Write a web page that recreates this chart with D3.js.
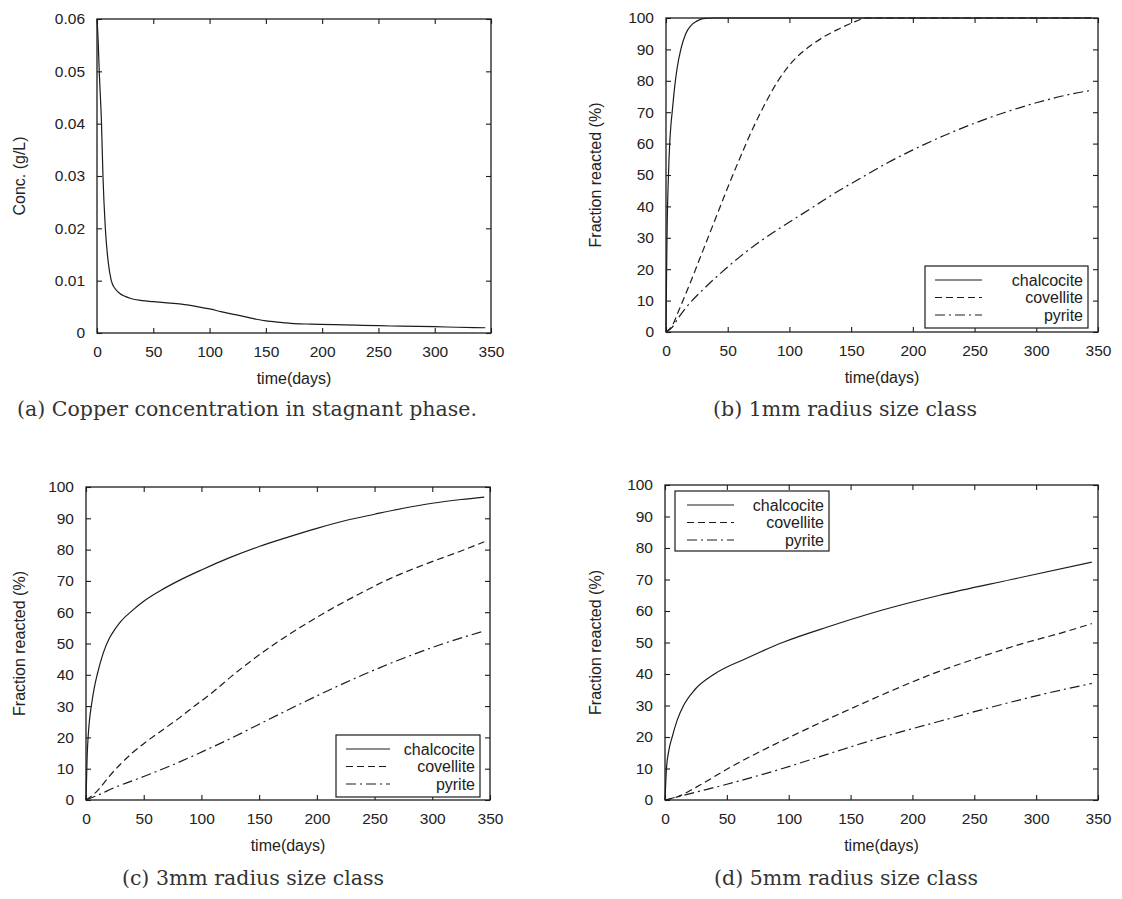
<!DOCTYPE html>
<html>
<head>
<meta charset="utf-8">
<script src="https://cdnjs.cloudflare.com/ajax/libs/d3/7.8.5/d3.min.js"></script>
<style>
  body { margin: 0; background: #fff; }
  svg text { font-family: "Liberation Sans", Arial, sans-serif; fill: #222; }
  svg text.caption { font-family: "DejaVu Serif", serif; fill: #333; }
</style>
</head>
<body>
<svg id="chart" width="1122" height="899"></svg>
<script>
// tick labels
const xTicks = [0, 50, 100, 150, 200, 250, 300, 350];
const concTicks = [0, 0.01, 0.02, 0.03, 0.04, 0.05, 0.06];
const pctTicks = [0, 10, 20, 30, 40, 50, 60, 70, 80, 90, 100];
const minerals = ['chalcocite', 'covellite', 'pyrite'];

// (a) copper concentration, g/L
const aTime = [0, 1, 2, 4, 5.3, 7.4, 10, 12.7, 16, 20, 25, 30, 40, 50, 60, 75, 90, 100, 110, 125, 140, 150, 165, 175, 190, 210, 230, 250, 270, 300, 320, 345];
const aConc = [0.06, 0.056, 0.05, 0.04, 0.03, 0.02, 0.0135, 0.01, 0.0085, 0.0076, 0.007, 0.0066, 0.0062, 0.006, 0.0058, 0.0055, 0.005, 0.0046, 0.0041, 0.0034, 0.0027, 0.0023, 0.002, 0.0018, 0.0017, 0.0016, 0.0015, 0.0014, 0.0013, 0.0012, 0.0011, 0.001];

// (b) 1mm
const bChalT = [0, 0.5, 1, 2, 3, 4, 5, 7, 9, 12, 16, 20, 25, 30, 40, 345];
const bChalV = [0, 20, 35, 50, 60, 66, 70, 78, 84, 90, 95, 97.5, 99, 99.8, 100, 100];
const bCovT = [0, 5, 10, 20, 30, 40, 50, 60, 70, 80, 90, 100, 110, 120, 130, 140, 150, 163, 345];
const bCovV = [0, 2, 6.5, 16, 26, 36, 46, 55.5, 64.5, 72.5, 79.5, 85, 89, 92, 94.5, 96.5, 98.3, 100, 100];
const bPyrT = [0, 5, 10, 20, 30, 45, 60, 75, 90, 100, 120, 140, 160, 180, 200, 225, 250, 275, 300, 325, 345];
const bPyrV = [0, 1.5, 4.5, 9.5, 13.5, 19, 24, 28.5, 32.5, 35, 40, 45, 49.5, 54, 58, 62.5, 66.5, 70, 73, 75.5, 77];

// (c) 3mm
const cChalT = [0, 1, 2, 3, 5, 7, 10, 15, 20, 25, 30, 40, 50, 65, 80, 100, 125, 150, 175, 200, 225, 250, 275, 300, 325, 345];
const cChalV = [0, 14, 21, 25.5, 31, 35.5, 40.5, 47, 51.5, 54.5, 57, 60.5, 63.5, 67, 70, 73.5, 77.5, 81, 84, 86.8, 89.3, 91.3, 93.2, 94.8, 96, 96.8];
const cCovT = [0, 10, 20, 30, 40, 50, 63, 80, 94, 110, 126, 145, 164, 185, 210, 235, 262, 295, 328, 345];
const cCovV = [0, 3, 7.5, 11.5, 15, 18, 21.5, 26, 30, 34.5, 39.5, 45, 50, 55, 60.5, 65.5, 70.5, 75.5, 80, 82.5];
const cPyrT = [0, 10, 25, 50, 75, 100, 125, 150, 180, 210, 240, 275, 310, 345];
const cPyrV = [0, 1.5, 4, 7.5, 11.2, 15.3, 19.6, 24.2, 29.7, 35, 40, 45.3, 50, 54];

// (d) 5mm
const dChalT = [0, 1.2, 3, 5.8, 10, 15, 24, 40, 66, 95, 132, 173, 222, 280, 345];
const dChalV = [0, 10, 15.5, 20, 25.5, 30, 35, 40, 45, 50, 55, 60, 65, 70, 75.5];
const dCovT = [0, 10, 25, 51, 75, 101, 128, 156, 185, 216, 252, 292, 320, 345];
const dCovV = [0, 1, 4, 10, 15, 20, 25, 30, 35, 40, 45, 50, 53, 56];
const dPyrT = [0, 25, 50, 95, 135, 176, 222, 269, 310, 345];
const dPyrV = [0, 2.5, 5, 10, 15, 20, 25, 30, 34, 37];

const dashes = ['none', '7,4', '10,4,2,4'];
const ink = '#1c1c1c';

const svg = d3.select('#chart');

function drawPanel(p) {
    const x = d3.scaleLinear().domain([0, 350]).range([p.left, p.right]);
    const y = d3.scaleLinear().domain(p.yDomain).range([p.bottom, p.top]);
    const g = svg.append('g');

    // ticks on all four sides, pointing inward
    const axes = [
        [d3.axisBottom(x).tickValues(xTicks).tickFormat(d3.format('d')), p.bottom, 'x'],
        [d3.axisTop(x).tickValues(xTicks).tickFormat(''), p.top, 'x'],
        [d3.axisLeft(y).tickValues(p.yTicks).tickFormat(p.yFormat), p.left, 'y'],
        [d3.axisRight(y).tickValues(p.yTicks).tickFormat(''), p.right, 'y']
    ];
    axes.forEach(([ax, pos, dir]) => {
        const a = g.append('g')
            .attr('transform', dir === 'x' ? `translate(0,${pos})` : `translate(${pos},0)`)
            .call(ax.tickSizeInner(-5).tickSizeOuter(0).tickPadding(dir === 'x' ? 13 : 12));
        a.select('.domain').remove();
        a.selectAll('line').attr('stroke', ink).attr('stroke-width', 1.1);
        a.selectAll('text').attr('fill', '#222').style('font-size', '15.5px');
    });

    g.append('rect')
        .attr('x', p.left).attr('y', p.top)
        .attr('width', p.right - p.left).attr('height', p.bottom - p.top)
        .attr('fill', 'none').attr('stroke', ink).attr('stroke-width', 1.3);

    const line = d3.line()
        .x(d => x(d[0]))
        .y(d => y(d[1]))
        .curve(d3.curveMonotoneX);

    p.series.forEach((s, i) => {
        g.append('path')
            .datum(d3.zip(s.t, s.v))
            .attr('d', line)
            .attr('fill', 'none')
            .attr('stroke', ink)
            .attr('stroke-width', 1.2)
            .attr('stroke-dasharray', s.dash);
    });

    // axis titles
    g.append('text')
        .attr('x', (p.left + p.right) / 2).attr('y', p.bottom + 51)
        .attr('text-anchor', 'middle').style('font-size', '16px')
        .text('time(days)');
    g.append('text')
        .attr('transform', `translate(${p.titleX},${(p.top + p.bottom) / 2}) rotate(-90)`)
        .attr('text-anchor', 'middle').attr('dy', '0.35em').style('font-size', '16px')
        .text(p.yTitle);

    // legend
    if (p.legend) {
        const L = p.legend;
        g.append('rect')
            .attr('x', L.x0).attr('y', L.y0)
            .attr('width', L.x1 - L.x0).attr('height', L.y1 - L.y0)
            .attr('fill', '#fff').attr('stroke', ink).attr('stroke-width', 1.2);
        p.series.forEach((s, i) => {
            const yy = L.y0 + 14 + i * 17.5;
            g.append('line')
                .attr('x1', L.lx0).attr('x2', L.lx1).attr('y1', yy).attr('y2', yy)
                .attr('stroke', ink).attr('stroke-width', 1.2)
                .attr('stroke-dasharray', s.dash);
            g.append('text')
                .attr('x', L.x1 - 5).attr('y', yy).attr('dy', '0.35em')
                .attr('text-anchor', 'end').style('font-size', '16px')
                .text(s.name);
        });
    }

    g.append('text')
        .attr('class', 'caption')
        .attr('x', p.capX).attr('y', p.capY)
        .attr('text-anchor', 'middle').style('font-size', '20.5px')
        .text(p.caption);
}

const pctFmt = d3.format('d');
const concFmt = d => d === 0 ? '0' : d.toFixed(2);

function mk(ts, vs) {
    return minerals.map((m, i) => ({ name: m, t: ts[i], v: vs[i], dash: dashes[i] }));
}

drawPanel({
    left: 97, right: 491, top: 19, bottom: 333,
    yDomain: [0, 0.06], yTicks: concTicks, yFormat: concFmt,
    yTitle: 'Conc. (g/L)', titleX: 19,
    series: [{ name: 'conc', t: aTime, v: aConc, dash: 'none' }],
    caption: '(a) Copper concentration in stagnant phase.', capX: 247, capY: 416
});

drawPanel({
    left: 666, right: 1098, top: 18, bottom: 332,
    yDomain: [0, 100], yTicks: pctTicks, yFormat: pctFmt,
    yTitle: 'Fraction reacted (%)', titleX: 595,
    series: mk([bChalT, bCovT, bPyrT], [bChalV, bCovV, bPyrV]),
    legend: { x0: 925, x1: 1088, y0: 266, y1: 328, lx0: 935, lx1: 982 },
    caption: '(b) 1mm radius size class', capX: 845, capY: 416
});

drawPanel({
    left: 86, right: 490, top: 487, bottom: 800,
    yDomain: [0, 100], yTicks: pctTicks, yFormat: pctFmt,
    yTitle: 'Fraction reacted (%)', titleX: 19,
    series: mk([cChalT, cCovT, cPyrT], [cChalV, cCovV, cPyrV]),
    legend: { x0: 336, x1: 480, y0: 735, y1: 797, lx0: 346, lx1: 390 },
    caption: '(c) 3mm radius size class', capX: 253, capY: 885
});

drawPanel({
    left: 665, right: 1098, top: 485, bottom: 800,
    yDomain: [0, 100], yTicks: pctTicks, yFormat: pctFmt,
    yTitle: 'Fraction reacted (%)', titleX: 595,
    series: mk([dChalT, dCovT, dPyrT], [dChalV, dCovV, dPyrV]),
    legend: { x0: 675, x1: 829, y0: 491, y1: 551, lx0: 687, lx1: 734 },
    caption: '(d) 5mm radius size class', capX: 846, capY: 885
});
</script>
</body>
</html>
